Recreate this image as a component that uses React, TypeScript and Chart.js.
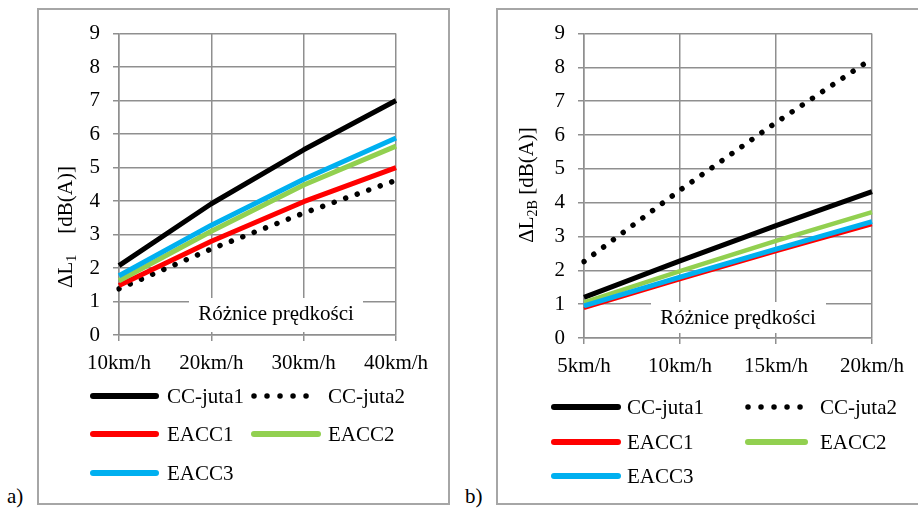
import React, { useEffect, useRef } from "react";
import { Chart, registerables } from "chart.js";

Chart.register(...registerables);

const FONT = '"Liberation Serif", "Times New Roman", serif';
const FS = 21;

// ---------- data ----------
const seriesNames = ["CC-juta1", "CC-juta2", "EACC1", "EACC2", "EACC3"];
const seriesColors = ["#000000", "#000000", "#ff0000", "#92d050", "#00b0f0"];
const yTickValues = [0, 1, 2, 3, 4, 5, 6, 7, 8, 9];

const aCategories = ["10km/h", "20km/h", "30km/h", "40km/h"];
const aCCjuta1 = [2.07, 3.92, 5.53, 7.0];
const aCCjuta2 = [1.38, 2.57, 3.64, 4.62];
const aEACC1 = [1.48, 2.8, 3.98, 5.0];
const aEACC2 = [1.62, 3.1, 4.48, 5.64];
const aEACC3 = [1.77, 3.28, 4.65, 5.88];

const bCategories = ["5km/h", "10km/h", "15km/h", "20km/h"];
const bCCjuta1 = [1.2, 2.28, 3.32, 4.33];
const bCCjuta2 = [2.26, 4.37, 6.37, 8.26];
const bEACC1 = [0.87, 1.72, 2.55, 3.35];
const bEACC2 = [1.05, 1.98, 2.87, 3.72];
const bEACC3 = [0.95, 1.8, 2.63, 3.44];

const xAxisTitle = "Różnice prędkości";

type PanelProps = {
  left: number;
  top: number;
  width: number;
  height: number;
  categories: string[];
  series: number[][];
  area: { left: number; right: number; top: number; bottom: number };
  lineWidths: number[];
  legendRows: number[];
  legendCols: { x1: number; x2: number; tx: number }[];
  titleSub: string;
  titleGap: string;
  titleCenter: { x: number; y: number };
  box: { x1: number; x2: number; y1: number; y2: number; tx: number; ty: number };
  frameRight: boolean;
};

const DOT_DASH = [0.01, 12.2];

function Panel(p: PanelProps) {
  const ref = useRef<HTMLCanvasElement | null>(null);

  useEffect(() => {
    const canvas = ref.current;
    if (!canvas) return;
    const xAxisHeight = 40;

    const datasets = seriesNames.map((name, i) => ({
      label: name,
      data: p.series[i],
      borderColor: seriesColors[i],
      backgroundColor: seriesColors[i],
      borderWidth: p.lineWidths[i],
      borderDash: i === 1 ? DOT_DASH : [],
      borderCapStyle: i === 1 ? "round" : "butt",
      borderJoinStyle: "round",
      pointRadius: 0,
      pointHoverRadius: 0,
      tension: 0,
      fill: false,
      order: seriesNames.length - 1 - i,
    }));

    const framePlugin = {
      id: "frame",
      beforeDraw(chart: any) {
        const ctx = chart.ctx;
        ctx.save();
        ctx.fillStyle = "#ffffff";
        ctx.fillRect(0, 0, chart.width, chart.height);
        ctx.strokeStyle = "#a6a6a6";
        ctx.lineWidth = 2;
        const w = p.frameRight ? chart.width - 2 : chart.width + 10;
        ctx.strokeRect(1, 1, w, chart.height - 2);
        ctx.restore();
      },
    };

    const boxPlugin = {
      id: "xtitlebox",
      beforeDatasetsDraw(chart: any) {
        const ctx = chart.ctx;
        const b = p.box;
        ctx.save();
        ctx.fillStyle = "#ffffff";
        ctx.fillRect(b.x1, b.y1, b.x2 - b.x1, b.y2 - b.y1);
        ctx.fillStyle = "#000000";
        ctx.font = `${FS}px ${FONT}`;
        ctx.textAlign = "center";
        ctx.textBaseline = "middle";
        ctx.fillText(xAxisTitle, b.tx, b.ty);
        ctx.restore();
      },
    };

    const yTitlePlugin = {
      id: "ytitle",
      afterDraw(chart: any) {
        const ctx = chart.ctx;
        ctx.save();
        ctx.translate(p.titleCenter.x, p.titleCenter.y);
        ctx.rotate(-Math.PI / 2);
        ctx.fillStyle = "#000000";
        ctx.textBaseline = "middle";
        ctx.textAlign = "left";
        const big = `${FS}px ${FONT}`;
        const small = `14px ${FONT}`;
        const main = "ΔL";
        const rest = p.titleGap + "[dB(A)]";
        ctx.font = big;
        const w1 = ctx.measureText(main).width;
        const w3 = ctx.measureText(rest).width;
        ctx.font = small;
        const w2 = ctx.measureText(p.titleSub).width;
        const total = w1 + w2 + w3;
        let x = -total / 2;
        ctx.font = big;
        ctx.fillText(main, x, 0);
        x += w1;
        ctx.font = small;
        ctx.fillText(p.titleSub, x, 6);
        x += w2;
        ctx.font = big;
        ctx.fillText(rest, x, 0);
        ctx.restore();
      },
    };

    const legendPlugin = {
      id: "customLegend",
      afterDraw(chart: any) {
        const ctx = chart.ctx;
        ctx.save();
        ctx.font = `${FS}px ${FONT}`;
        ctx.textBaseline = "middle";
        ctx.textAlign = "left";
        seriesNames.forEach((name, i) => {
          const row = Math.floor(i / 2);
          const col = i % 2;
          const y = p.legendRows[row];
          const c = p.legendCols[col];
          ctx.beginPath();
          ctx.strokeStyle = seriesColors[i];
          ctx.lineWidth = i === 1 ? 5.5 : 6;
          ctx.lineCap = "round";
          ctx.setLineDash(i === 1 ? [0.01, 13] : []);
          ctx.moveTo(c.x1, y);
          ctx.lineTo(c.x2, y);
          ctx.stroke();
          ctx.setLineDash([]);
          ctx.fillStyle = "#000000";
          ctx.fillText(name, c.tx, y + 1);
        });
        ctx.restore();
      },
    };

    const gridColor = "#8f8f8f";

    const chart = new Chart(canvas, {
      type: "line",
      data: { labels: p.categories, datasets: datasets as any },
      options: {
        responsive: false,
        animation: false,
        devicePixelRatio: 1,
        events: [],
        layout: {
          padding: {
            left: 0,
            top: p.area.top,
            right: p.width - p.area.right,
            bottom: p.height - p.area.bottom - xAxisHeight,
          },
        },
        plugins: {
          legend: { display: false },
          tooltip: { enabled: false },
          title: { display: false },
        },
        scales: {
          x: {
            type: "category",
            offset: false,
            grid: {
              color: gridColor,
              lineWidth: 1.5,
              tickLength: 6,
              drawTicks: true,
            },
            border: { color: gridColor, width: 1.5 },
            ticks: {
              color: "#000000",
              font: { family: FONT, size: FS },
              padding: 10,
              maxRotation: 0,
              autoSkip: false,
            },
            afterFit: (s: any) => {
              s.height = xAxisHeight;
            },
          },
          y: {
            min: yTickValues[0],
            max: yTickValues[yTickValues.length - 1],
            afterBuildTicks: (s: any) => {
              s.ticks = yTickValues.map((v) => ({ value: v }));
            },
            grid: {
              color: gridColor,
              lineWidth: 1.5,
              tickLength: 6,
            },
            border: { color: gridColor, width: 1.5 },
            ticks: {
              color: "#000000",
              font: { family: FONT, size: FS },
              padding: 13,
            },
            afterFit: (s: any) => {
              s.width = p.area.left;
            },
          },
        },
      },
      plugins: [framePlugin, boxPlugin, yTitlePlugin, legendPlugin],
    } as any);

    return () => chart.destroy();
  }, []);

  return (
    <canvas
      ref={ref}
      width={p.width}
      height={p.height}
      style={{
        position: "absolute",
        left: p.left,
        top: p.top,
        width: p.width,
        height: p.height,
        display: "block",
      }}
    />
  );
}

export default function App() {
  const labelStyle: React.CSSProperties = {
    position: "absolute",
    fontFamily: FONT,
    fontSize: FS,
    lineHeight: "24px",
    color: "#000",
  };
  return (
    <div
      style={{
        position: "absolute",
        left: 0,
        top: 0,
        width: 918,
        height: 508,
        background: "#ffffff",
        overflow: "hidden",
      }}
    >
      <Panel
        left={37}
        top={8}
        width={413}
        height={497}
        categories={aCategories}
        series={[aCCjuta1, aCCjuta2, aEACC1, aEACC2, aEACC3]}
        area={{ left: 82, right: 359, top: 22, bottom: 327 }}
        lineWidths={[5, 5.5, 5, 5, 5]}
        legendRows={[388, 426, 465]}
        legendCols={[
          { x1: 56, x2: 119, tx: 130 },
          { x1: 217, x2: 281, tx: 291 },
        ]}
        titleSub="1"
        titleGap="    "
        titleCenter={{ x: 29, y: 219 }}
        box={{ x1: 152, x2: 326, y1: 290, y2: 324, tx: 239, ty: 306 }}
        frameRight={true}
      />
      <Panel
        left={496}
        top={8}
        width={422}
        height={497}
        categories={bCategories}
        series={[bCCjuta1, bCCjuta2, bEACC1, bEACC2, bEACC3]}
        area={{ left: 88, right: 376, top: 21, bottom: 330 }}
        lineWidths={[5, 5.5, 3, 4.5, 5]}
        legendRows={[399, 434, 468]}
        legendCols={[
          { x1: 58, x2: 122, tx: 131 },
          { x1: 252, x2: 309, tx: 324 },
        ]}
        titleSub="2B"
        titleGap=" "
        titleCenter={{ x: 31, y: 177 }}
        box={{ x1: 155, x2: 330, y1: 294, y2: 325, tx: 242, ty: 310 }}
        frameRight={false}
      />
      <div style={{ ...labelStyle, left: 7, top: 484 }}>a)</div>
      <div style={{ ...labelStyle, left: 465, top: 484 }}>b)</div>
    </div>
  );
}
